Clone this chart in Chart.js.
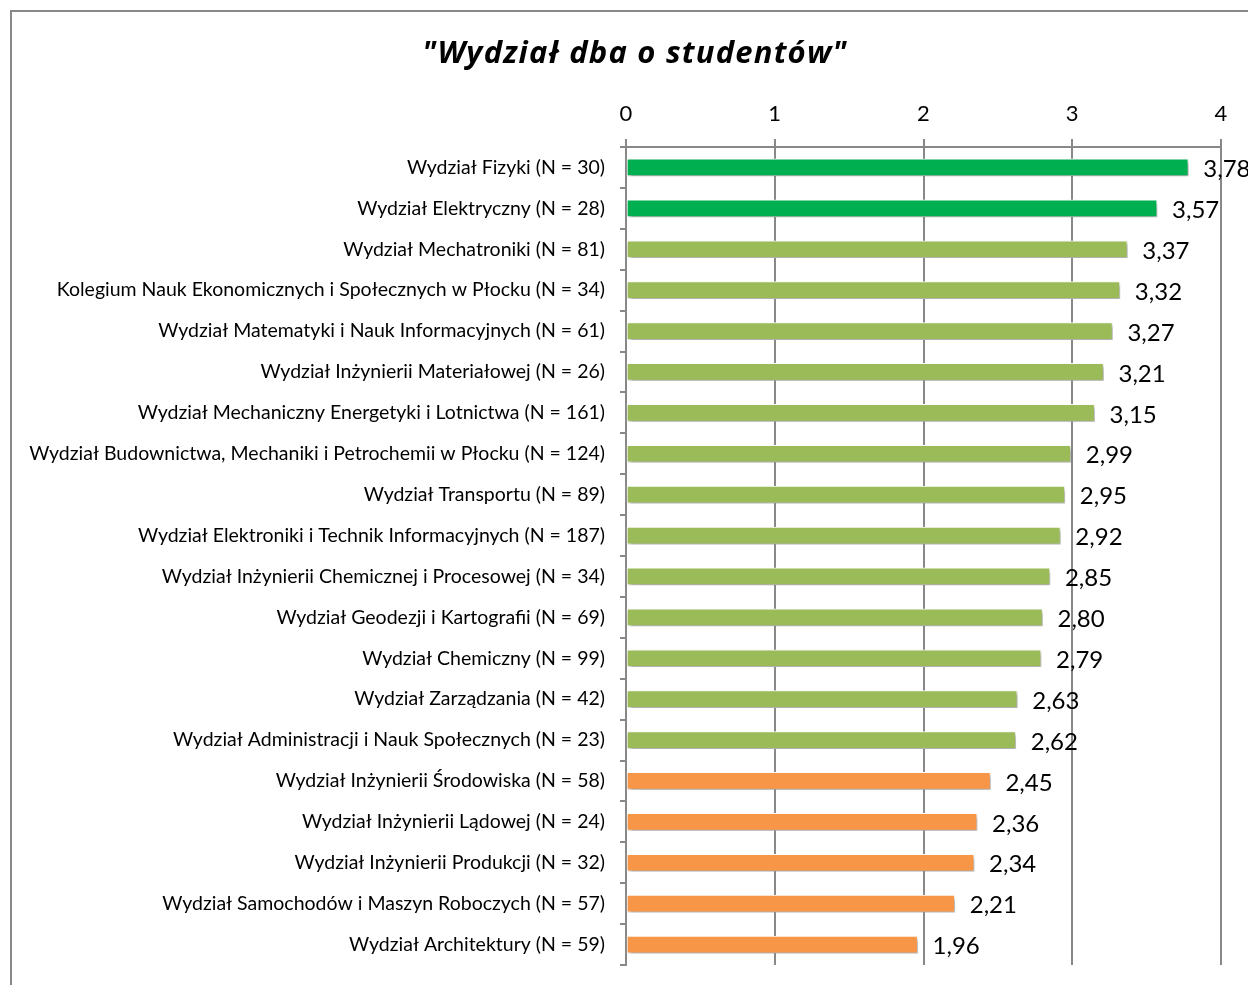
<!DOCTYPE html>
<html>
<head>
<meta charset="utf-8">
<script src="https://cdn.jsdelivr.net/npm/chart.js@4/dist/chart.umd.min.js"></script>
<style>
  body { margin: 0; background: #fff; overflow: hidden; }
  #frame { position: absolute; left: 10px; top: 10px; width: 1300px; height: 1100px; border: 2px solid #888; }
  #wrap { position: absolute; left: 0; top: 0; width: 1248px; height: 985px; }
</style>
</head>
<body>
<div id="frame"></div>
<div id="wrap"><canvas id="chart" width="1248" height="985"></canvas></div>
<script>
const chartTitle = "\"Wydział dba o studentów\"";
const categories = [
    "Wydział Fizyki (N = 30)",
    "Wydział Elektryczny (N = 28)",
    "Wydział Mechatroniki (N = 81)",
    "Kolegium Nauk Ekonomicznych i Społecznych w Płocku (N = 34)",
    "Wydział Matematyki i Nauk Informacyjnych (N = 61)",
    "Wydział Inżynierii Materiałowej (N = 26)",
    "Wydział Mechaniczny Energetyki i Lotnictwa (N = 161)",
    "Wydział Budownictwa, Mechaniki i Petrochemii w Płocku (N = 124)",
    "Wydział Transportu (N = 89)",
    "Wydział Elektroniki i Technik Informacyjnych (N = 187)",
    "Wydział Inżynierii Chemicznej i Procesowej (N = 34)",
    "Wydział Geodezji i Kartografii (N = 69)",
    "Wydział Chemiczny (N = 99)",
    "Wydział Zarządzania (N = 42)",
    "Wydział Administracji i Nauk Społecznych (N = 23)",
    "Wydział Inżynierii Środowiska (N = 58)",
    "Wydział Inżynierii Lądowej (N = 24)",
    "Wydział Inżynierii Produkcji (N = 32)",
    "Wydział Samochodów i Maszyn Roboczych (N = 57)",
    "Wydział Architektury (N = 59)"
];
const scores = [3.78, 3.57, 3.37, 3.32, 3.27, 3.21, 3.15, 2.99, 2.95, 2.92, 2.85, 2.80, 2.79, 2.63, 2.62, 2.45, 2.36, 2.34, 2.21, 1.96];
const tiers = ["high", "high", "mid", "mid", "mid", "mid", "mid", "mid", "mid", "mid", "mid", "mid", "mid", "mid", "mid", "low", "low", "low", "low", "low"];
const xTicks = [0, 1, 2, 3, 4];

const tierColors = { high: "#00B050", mid: "#9BBB59", low: "#F79646" };
const FONT = "Lato, 'Open Sans', sans-serif";

// tytul rysowany recznie, zeby byl wysrodkowany wzgledem calej ramki
const titlePlugin = {
    id: "customTitle",
    beforeDraw(chart) {
        const ctx = chart.ctx;
        ctx.save();
        ctx.font = "italic bold 31px 'Open Sans', sans-serif";
        ctx.letterSpacing = "1.2px";
        ctx.fillStyle = "#000";
        ctx.textAlign = "center";
        ctx.textBaseline = "alphabetic";
        ctx.fillText(chartTitle, chart.width / 2 + 11, 63);
        ctx.restore();
    }
};

// rysowanie cienia pod slupkami
const shadowPlugin = {
    id: "barShadow",
    beforeDatasetDraw(chart) {
        const ctx = chart.ctx;
        ctx.save();
        ctx.shadowColor = "rgba(0,0,0,0.35)";
        ctx.shadowBlur = 4;
        ctx.shadowOffsetX = 2;
        ctx.shadowOffsetY = 3;
    },
    afterDatasetDraw(chart) {
        chart.ctx.restore();
    }
};

// etykiety z wartoscami po prawej stronie slupka
const valueLabels = {
    id: "valueLabels",
    afterDatasetsDraw(chart) {
        const ctx = chart.ctx;
        const meta = chart.getDatasetMeta(0);
        ctx.save();
        ctx.font = "24px " + FONT;
        ctx.fillStyle = "#000";
        ctx.textAlign = "left";
        ctx.textBaseline = "middle";
        meta.data.forEach((bar, i) => {
            const txt = scores[i].toFixed(2).replace(".", ",");
            ctx.fillText(txt, bar.x + 15, bar.y + 2);
        });
        ctx.restore();
    }
};

const ctx = document.getElementById("chart").getContext("2d");
const chart = new Chart(ctx, {
    type: "bar",
    data: {
        labels: categories,
        datasets: [{
            data: scores,
            backgroundColor: tiers.map(t => tierColors[t]),
            borderColor: "#ffffff",
            borderWidth: 1,
            borderSkipped: false,
            barThickness: 17
        }]
    },
    options: {
        indexAxis: "y",
        responsive: false,
        animation: false,
        layout: { padding: { left: 0, right: 27, top: 99, bottom: 20 } },
        plugins: {
            legend: { display: false },
            tooltip: { enabled: false },
            title: { display: false }
        },
        scales: {
            x: {
                position: "top",
                min: 0,
                max: 4,
                afterBuildTicks(scale) {
                    scale.ticks = xTicks.map(v => ({ value: v }));
                },
                afterFit(scale) { scale.height = 48; },
                grid: { color: "#888", lineWidth: 2, tickLength: 8 },
                border: { color: "#888", width: 2 },
                ticks: {
                    color: "#000",
                    padding: 12,
                    font: { family: FONT, size: 22 }
                }
            },
            y: {
                afterFit(scale) {
                    scale.width = 626;
                    scale.paddingTop = 0;
                    scale.paddingBottom = 0;
                },
                grid: { drawOnChartArea: false, color: "#888", lineWidth: 2, tickLength: 6 },
                border: { color: "#888", width: 2 },
                ticks: {
                    color: "#000",
                    padding: 15,
                    autoSkip: false,
                    font: { family: FONT, size: 19.5 }
                }
            }
        }
    },
    plugins: [titlePlugin, shadowPlugin, valueLabels]
});
</script>
</body>
</html>
